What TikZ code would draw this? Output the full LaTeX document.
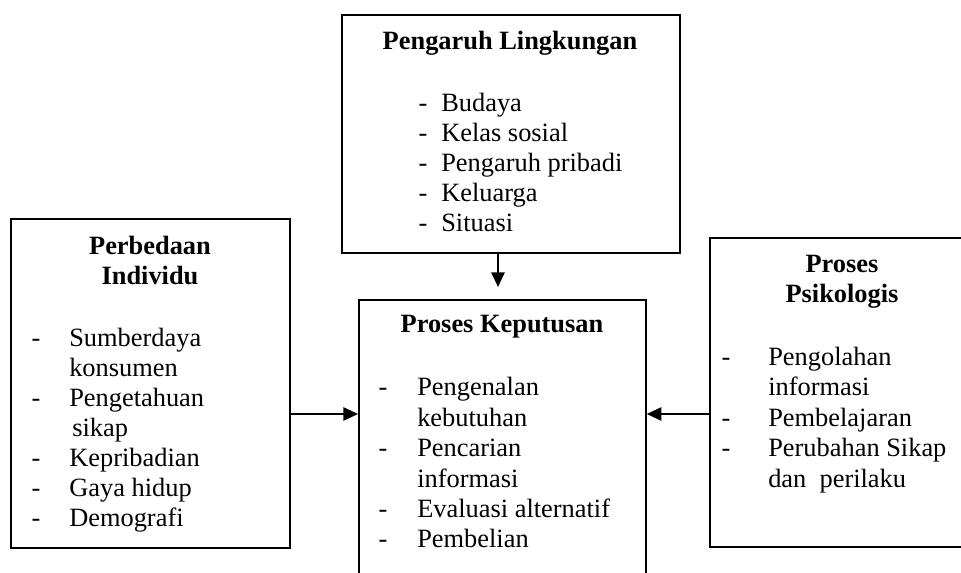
\documentclass[tikz,border=0pt]{standalone}
\usepackage{fontspec}
\setmainfont{Liberation Serif}
\usetikzlibrary{arrows.meta}
\begin{document}
\begin{tikzpicture}[x=0.75pt,y=-0.75pt,
  boxline/.style={draw=black,line width=1.3pt,fill=none,inner sep=0pt,anchor=north west},
  txt/.style={inner sep=0pt,anchor=base west,font=\fontsize{19.8}{22}\selectfont},
  dsh/.style={inner sep=0pt,anchor=base,font=\fontsize{19.8}{22}\selectfont},
  ttl/.style={inner sep=0pt,anchor=base,font=\fontsize{19.8}{22}\selectfont\bfseries},
  conn/.style={line width=1.3pt,-{Triangle[length=11pt,width=10pt]}}]
\useasboundingbox (0,0) rectangle (961,573);
\begin{scope}
\clip (0,0) rectangle (961,573);
% boxes
\node[boxline,minimum width=338*0.75pt,minimum height=238*0.75pt] (top) at (341,14) {};
\node[boxline,minimum width=279*0.75pt,minimum height=329*0.75pt] (left) at (10,218) {};
\node[boxline,minimum width=287*0.75pt,minimum height=320*0.75pt] (mid) at (358,299) {};
\node[boxline,minimum width=300*0.75pt,minimum height=309*0.75pt] (right) at (709,237) {};
\end{scope}
% top box text
\node[ttl] (t0) at (510,50) {Pengaruh Lingkungan};
\node[dsh] (td1) at (423,112) {-};
\node[txt] (t1) at (441,112) {Budaya};
\node[dsh] (td2) at (423,142) {-};
\node[txt] (t2) at (441,142) {Kelas sosial};
\node[dsh] (td3) at (423,172) {-};
\node[txt] (t3) at (441,172) {Pengaruh pribadi};
\node[dsh] (td4) at (423,202) {-};
\node[txt] (t4) at (441,202) {Keluarga};
\node[dsh] (td5) at (423,232) {-};
\node[txt] (t5) at (441,232) {Situasi};
% left box text
\node[ttl] (l0a) at (150,255) {Perbedaan};
\node[ttl] (l0b) at (150,285) {Individu};
\node[dsh] (ld1) at (36,347) {-};
\node[txt] (l1) at (69,347) {Sumberdaya};
\node[txt] (l1b) at (69,377) {konsumen};
\node[dsh] (ld2) at (36,407) {-};
\node[txt] (l2) at (69,407) {Pengetahuan};
\node[txt] (l2b) at (72,437) {sikap};
\node[dsh] (ld3) at (36,467) {-};
\node[txt] (l3) at (69,467) {Kepribadian};
\node[dsh] (ld4) at (36,497) {-};
\node[txt] (l4) at (69,497) {Gaya hidup};
\node[dsh] (ld5) at (36,527) {-};
\node[txt] (l5) at (69,527) {Demografi};
% middle box text
\node[ttl] (m0) at (502,333) {Proses Keputusan};
\node[dsh] (md1) at (383,396) {-};
\node[txt] (m1) at (417,396) {Pengenalan};
\node[txt] (m1b) at (417,427) {kebutuhan};
\node[dsh] (md2) at (383,457) {-};
\node[txt] (m2) at (417,457) {Pencarian};
\node[txt] (m2b) at (417,488) {informasi};
\node[dsh] (md3) at (383,518) {-};
\node[txt] (m3) at (417,518) {Evaluasi alternatif};
\node[dsh] (md4) at (383,548) {-};
\node[txt] (m4) at (417,548) {Pembelian};
% right box text
\node[ttl] (r0a) at (842,273) {Proses};
\node[ttl] (r0b) at (842,303) {Psikologis};
\node[dsh] (rd1) at (726,366) {-};
\node[txt] (r1) at (768,366) {Pengolahan};
\node[txt] (r1b) at (768,396) {informasi};
\node[dsh] (rd2) at (726,427) {-};
\node[txt] (r2) at (768,427) {Pembelajaran};
\node[dsh] (rd3) at (726,457) {-};
\node[txt] (r3) at (768,457) {Perubahan Sikap};
\node[txt] (r3b) at (768,488) {dan~ perilaku};
% connectors
\coordinate (dtip) at (498,287);
\coordinate (ly) at (0,414);
\draw[conn] (top.south -| dtip) -- (dtip);
\draw[conn] (left.east |- ly) -- (mid.west |- ly);
\draw[conn] (right.west |- ly) -- (mid.east |- ly);
\end{tikzpicture}
\end{document}
